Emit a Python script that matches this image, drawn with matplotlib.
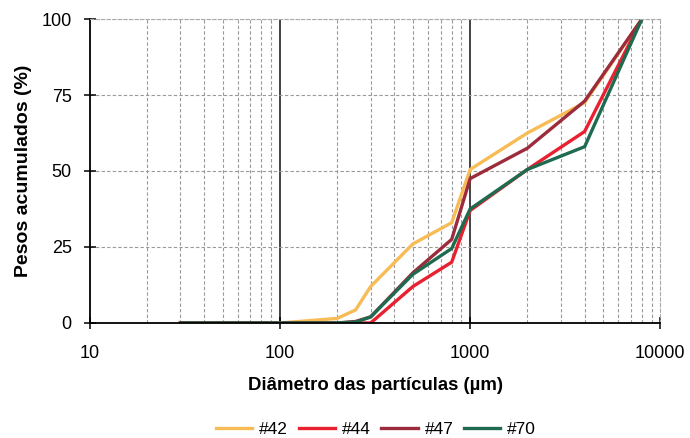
import numpy as np
import matplotlib as mpl
import matplotlib.pyplot as plt
from matplotlib.ticker import FixedLocator, NullFormatter

mpl.rcParams['font.family'] = ['Liberation Sans', 'DejaVu Sans']
mpl.rcParams['font.size'] = 12

#-- particle diameters (um) and cumulative weights (%)
diam = [30, 100, 200, 250, 300, 500, 800, 1000, 2000, 4000, 8000]
s42 = [0, 0, 1.5, 4.3, 12, 26, 33, 50.5, 62.5, 72.5, 100]
s44 = [0, 0, 0, 0, 0, 12, 20, 37, 50.5, 63, 100]
s47 = [0, 0, 0, 0.5, 2, 16.5, 27.5, 47.5, 57.5, 73, 100]
s70 = [0, 0, 0, 0.3, 2, 16, 24.5, 37.5, 50.5, 58, 100]

series = [('#42', s42, '#F7BC55'), ('#44', s44, '#E8202F'),
          ('#47', s47, '#9C2B3B'), ('#70', s70, '#1F6B4F')]

fig = plt.figure(figsize=(6.9, 4.38), dpi=100)
ax = fig.add_axes([0.130, 0.2626, 0.827, 0.694])

for name, vals, col in series:
    ax.plot(diam, vals, color=col, lw=2.4, label=name, solid_joinstyle='miter')

ax.set_xscale('log')
ax.set_xlim(10, 10000)
ax.set_ylim(0, 100)
ax.set_yticks([0, 25, 50, 75, 100])
ax.xaxis.set_major_locator(FixedLocator([10, 100, 1000, 10000]))
ax.set_xticklabels(['10', '100', '1000', '10000'])
ax.xaxis.set_minor_formatter(NullFormatter())

#-- grid: dashed grey minor, solid black decades
ax.grid(which='minor', axis='x', color='#999999', ls=(0, (3, 2)), lw=0.8)
ax.grid(which='major', axis='y', color='#999999', ls=(0, (3, 2)), lw=0.8)
for d in [100, 1000]:
    ax.axvline(d, color='#222222', lw=1.2, zorder=1.5)

ax.spines['top'].set_color('#aaaaaa')
ax.spines['top'].set_linestyle((0, (3, 2)))
ax.spines['right'].set_color('#aaaaaa')
ax.spines['right'].set_linestyle((0, (3, 2)))
ax.spines['left'].set_linewidth(1.3)
ax.spines['bottom'].set_linewidth(1.3)
ax.tick_params(axis='both', which='major', direction='inout', length=8, width=1.1, labelsize=13)
ax.tick_params(axis='x', which='minor', length=0)
ax.tick_params(axis='x', which='major', pad=12)
ax.tick_params(axis='y', which='major', pad=9)

ax.set_ylabel('Pesos acumulados (%)', fontweight='bold', fontsize=14, labelpad=7)
ax.set_xlabel('Diâmetro das partículas (µm)', fontweight='bold', fontsize=13.4, labelpad=11)

fig.legend(loc='center', bbox_to_anchor=(0.545, 1 - 429 / 438), ncol=4, frameon=False,
           fontsize=12.5, handlelength=2.1, columnspacing=0.6, handletextpad=0.4)

fig.savefig('out.png', dpi=100)
